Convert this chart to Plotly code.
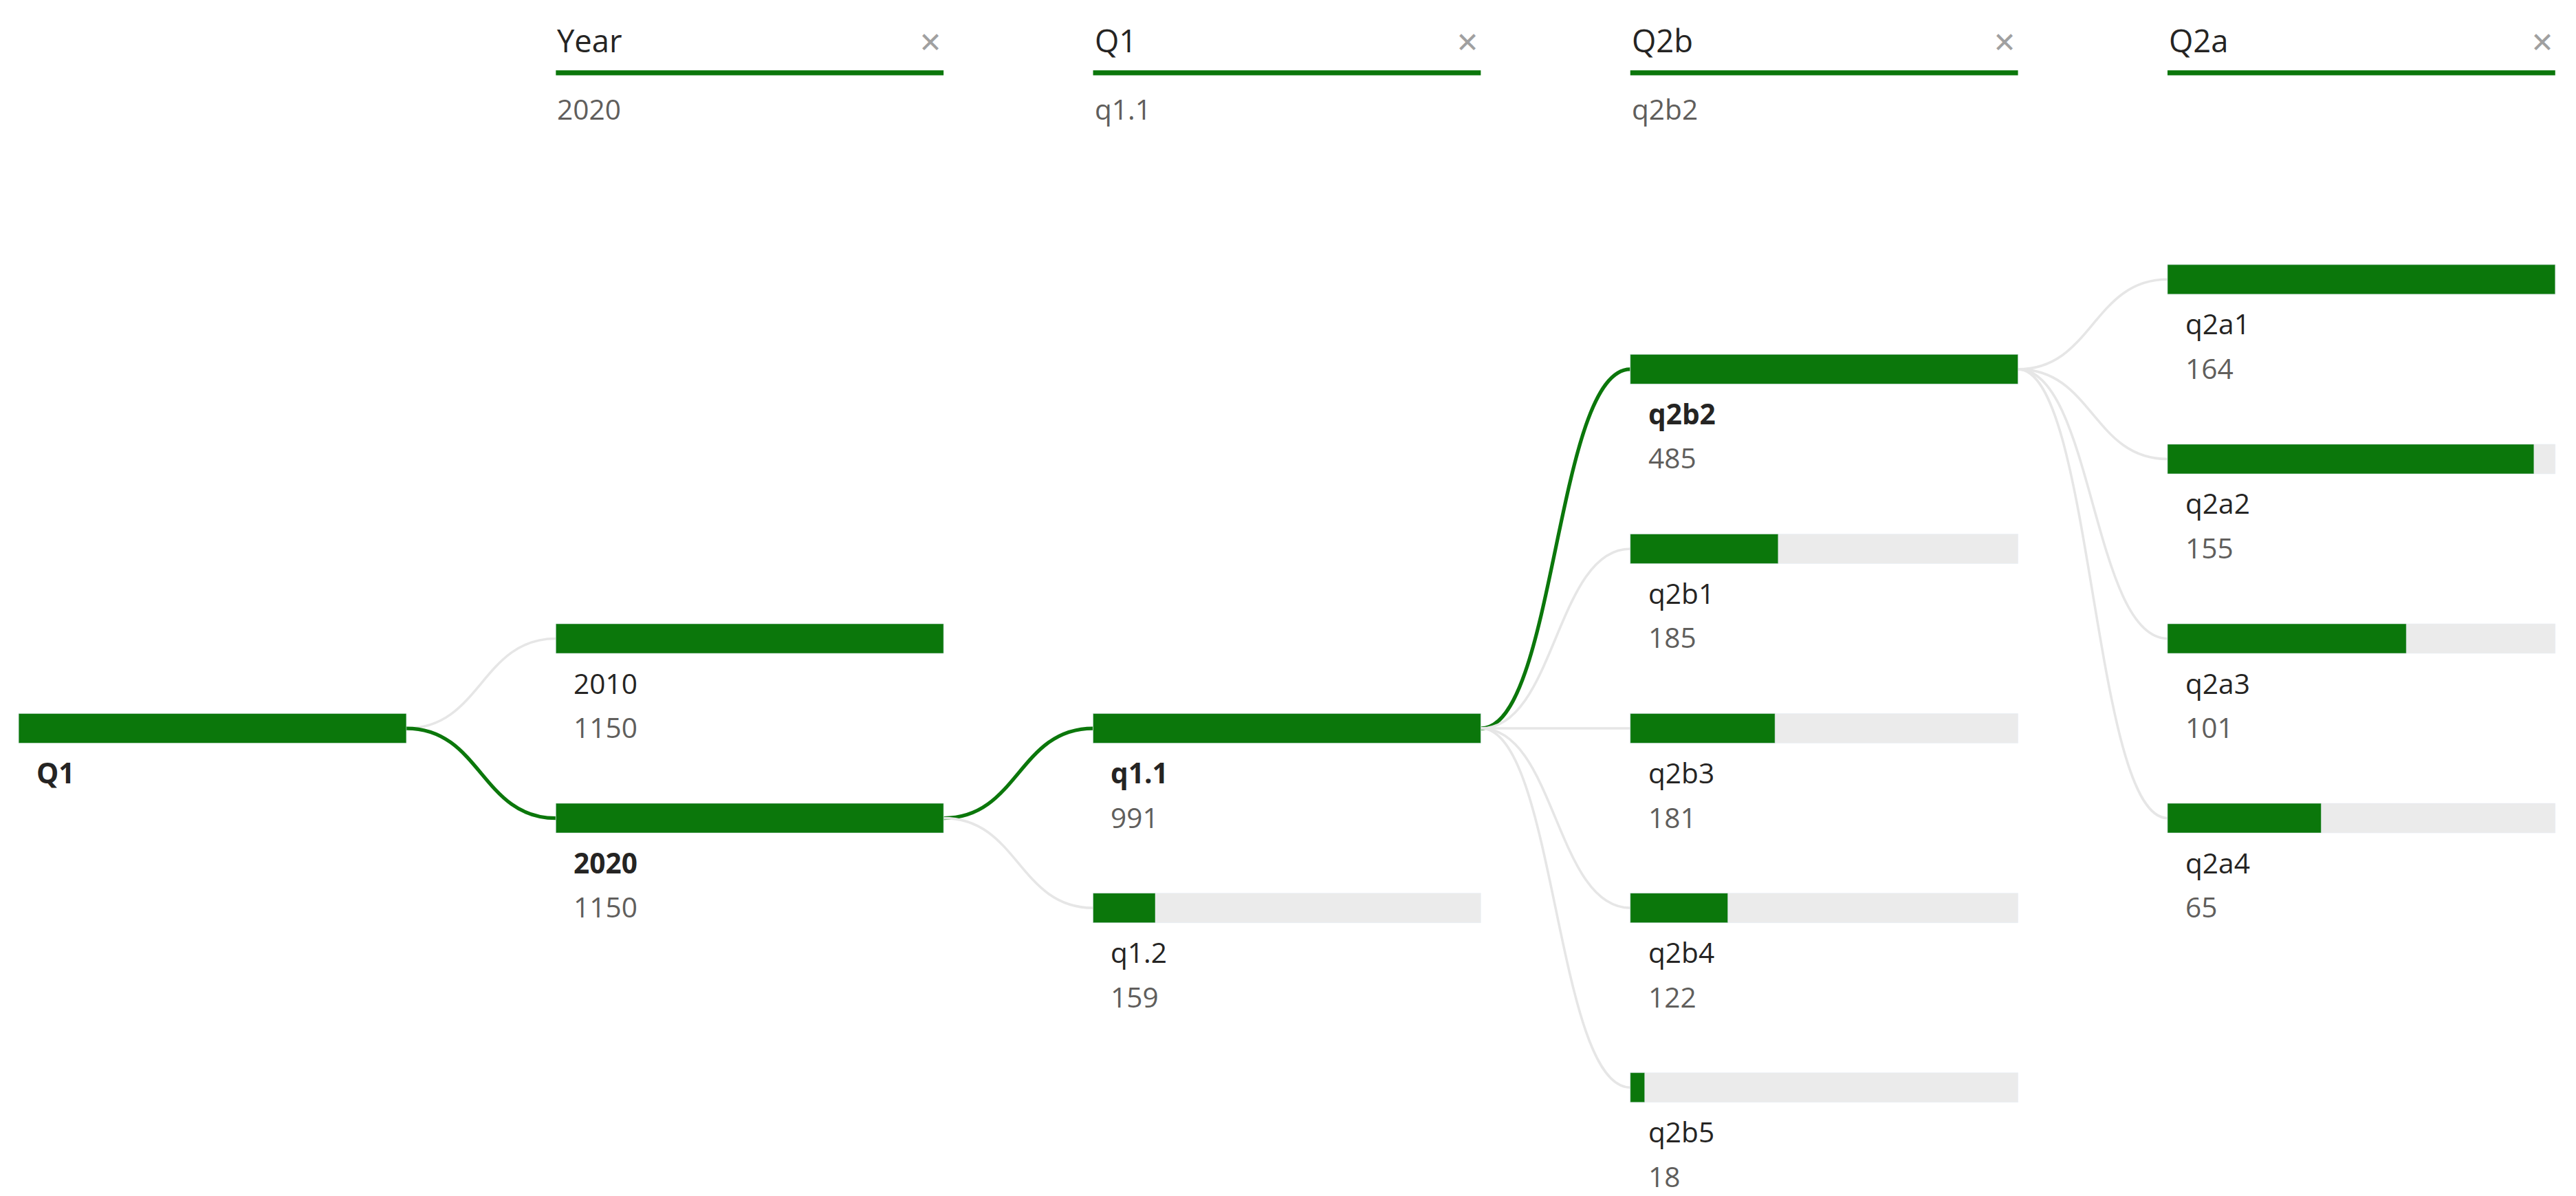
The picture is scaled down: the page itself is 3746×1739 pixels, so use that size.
import plotly.graph_objects as go

# ---- data ----
root_label = "Q1"
root_value = 1150
columns = ["Year", "Q1", "Q2b", "Q2a"]
selected = ["2020", "q1.1", "q2b2", None]
year_labels = ["2010", "2020"]
year_values = [1150, 1150]
q1_labels = ["q1.1", "q1.2"]
q1_values = [991, 159]
q2b_labels = ["q2b2", "q2b1", "q2b3", "q2b4", "q2b5"]
q2b_values = [485, 185, 181, 122, 18]
q2a_labels = ["q2a1", "q2a2", "q2a3", "q2a4"]
q2a_values = [164, 155, 101, 65]

# ---- layout (display units) ----
W, H = 1568, 728
S = 3746 / W
GREEN = "#0B770B"
GREY = "#EBEBEB"
LINK = "#E6E6E6"
col_x = [8, 335, 662, 989, 1316]
bar_len = 236
bar_h = 18
y0, dy = 440, 109.3
row_offsets = [[0], [-0.5, 0.5], [0, 1], [-2, -1, 0, 1, 2], [-2.5, -1.5, -0.5, 0.5]]

levels = [([root_label], [root_value]), (year_labels, year_values), (q1_labels, q1_values),
          (q2b_labels, q2b_values), (q2a_labels, q2a_values)]
sel_all = [root_label] + selected

fig = go.Figure()
shapes, ann = [], []
font = "Open Sans, DejaVu Sans, sans-serif"
parent_y = None
for c, (labels, values) in enumerate(levels):
    ys = [y0 + k * dy for k in row_offsets[c]]
    mx = max(values)
    x0 = col_x[c]
    if c > 0:
        fig.add_trace(go.Bar(orientation="h", y=ys, x=[bar_len] * len(ys), base=x0, width=bar_h,
                             marker_color=GREY, hoverinfo="skip", showlegend=False))
    fig.add_trace(go.Bar(orientation="h", y=ys, x=[v / mx * bar_len for v in values], base=x0,
                         width=bar_h, marker_color=GREEN, hoverinfo="skip", showlegend=False))
    for lab, v, y in zip(labels, values, ys):
        is_sel = lab == sel_all[c]
        if c > 0:
            px = col_x[c - 1] + bar_len
            mid = (px + x0) / 2
            shapes.append(dict(type="path", path=f"M {px},{parent_y} C {mid},{parent_y} {mid},{y} {x0},{y}",
                               line=dict(color=GREEN if is_sel else LINK, width=(2.2 if is_sel else 1.5) * S),
                               layer="below"))
        ann.append(dict(x=x0 + 10, y=y + 27, text=f"<b>{lab}</b>" if is_sel else lab, showarrow=False,
                        xanchor="left", yanchor="middle",
                        font=dict(size=17 * S, color="#252423", family=font)))
        if c > 0:
            ann.append(dict(x=x0 + 10, y=y + 54, text=str(v), showarrow=False, xanchor="left",
                            yanchor="middle", font=dict(size=17 * S, color="#605E5C", family=font)))
    sel_idx = labels.index(sel_all[c]) if sel_all[c] in labels else 0
    parent_y = ys[sel_idx]

for i, name in enumerate(columns):
    x0 = col_x[i + 1]
    ann.append(dict(x=x0, y=21, text=name, showarrow=False, xanchor="left", yanchor="middle",
                    font=dict(size=19 * S, color="#252423", family=font)))
    ann.append(dict(x=x0 + bar_len - 8, y=22, text="✕", showarrow=False, xanchor="center", yanchor="middle",
                    font=dict(size=17 * S, color="#A0A0A0", family=font)))
    shapes.append(dict(type="line", x0=x0, x1=x0 + bar_len, y0=41, y1=41,
                       line=dict(color=GREEN, width=3 * S)))
    if selected[i]:
        ann.append(dict(x=x0, y=63, text=selected[i], showarrow=False, xanchor="left", yanchor="middle",
                        font=dict(size=17 * S, color="#605E5C", family=font)))

fig.update_layout(width=3746, height=1739, margin=dict(l=0, r=0, t=0, b=0),
                  plot_bgcolor="white", paper_bgcolor="white", barmode="overlay",
                  xaxis=dict(range=[0, W], visible=False, fixedrange=True),
                  yaxis=dict(range=[H, 0], visible=False, fixedrange=True),
                  shapes=shapes, annotations=ann)
fig.write_html("out.html")
